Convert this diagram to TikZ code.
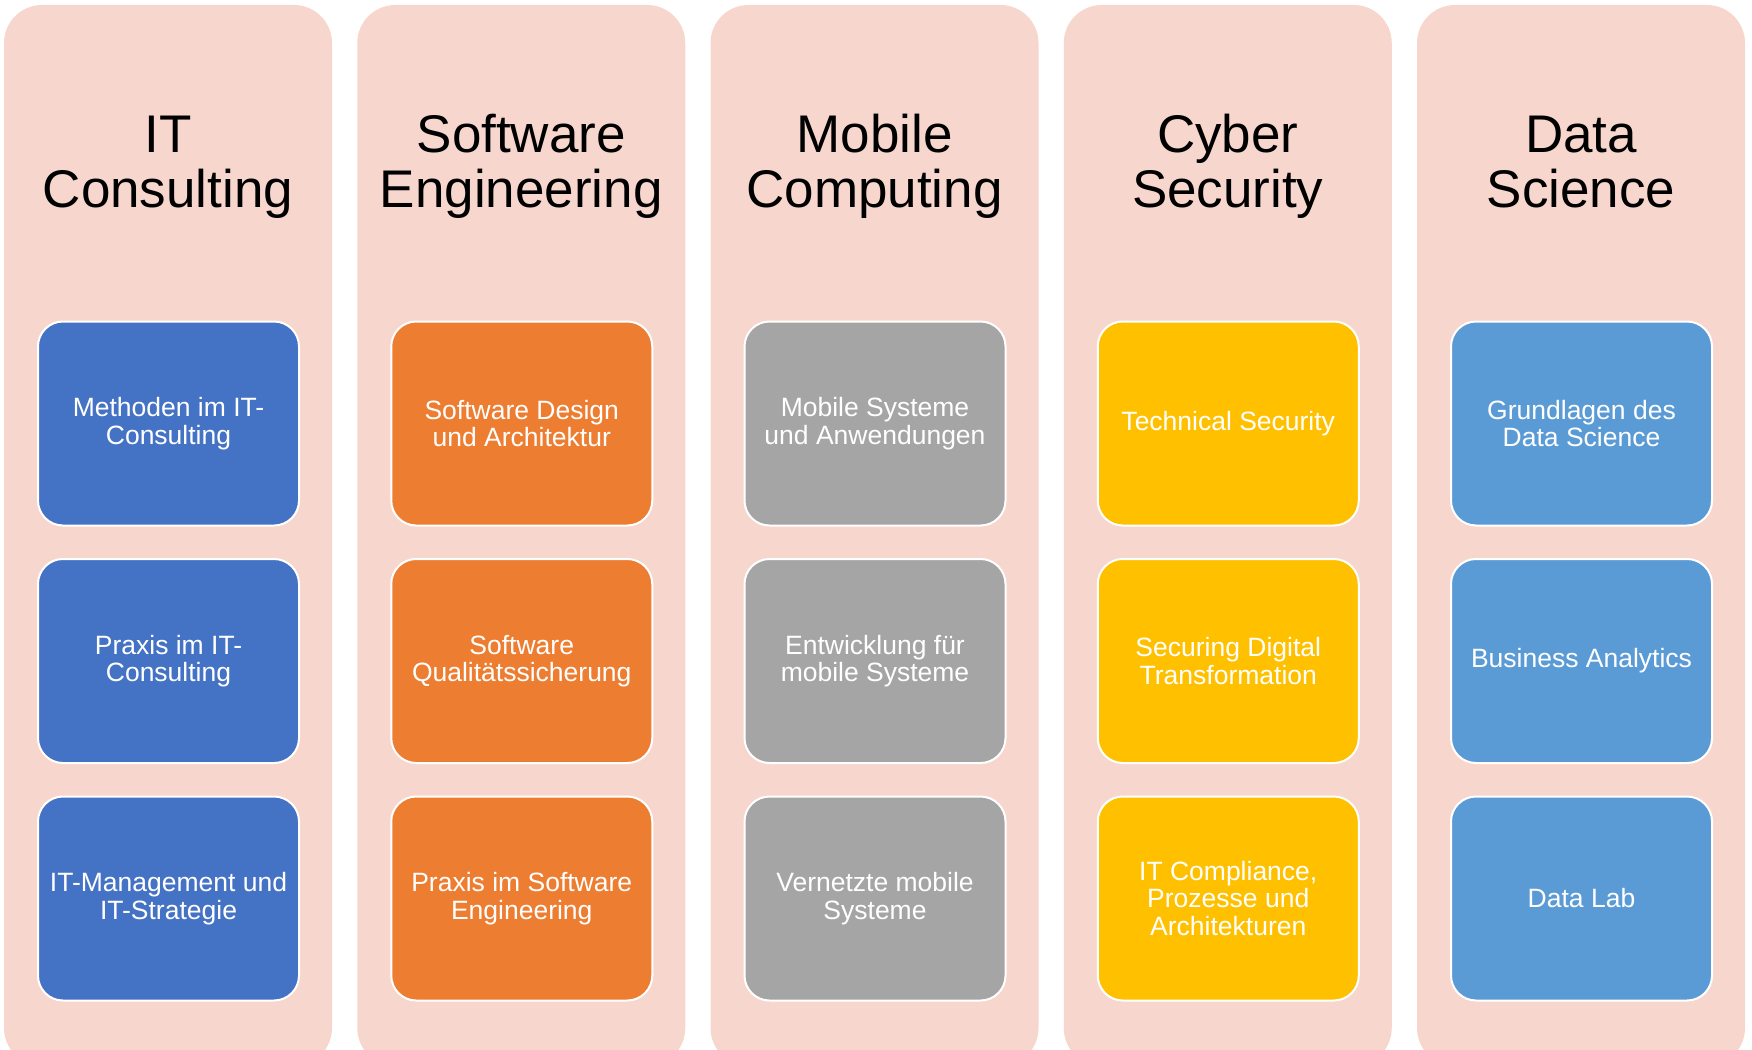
\documentclass[tikz,border=0pt]{standalone}
\usepackage{fontspec}
\setmainfont{Liberation Sans}
\definecolor{colbg}{HTML}{F7D7CD}
\definecolor{cblue}{HTML}{4472C4}
\definecolor{corange}{HTML}{ED7D31}
\definecolor{cgray}{HTML}{A5A5A5}
\definecolor{cgold}{HTML}{FFC000}
\definecolor{clblue}{HTML}{5B9BD5}
\newcommand{\topstrut}{\rule{0pt}{40pt}}
\begin{document}
\begin{tikzpicture}[x=1pt,y=-1pt,
  colbox/.style={fill=colbg, draw=none, rounded corners=38pt},
  title/.style={anchor=north, align=center, inner sep=0pt, text=black, font=\fontsize{53}{55}\selectfont},
  item/.style={draw=white, line width=2pt, rounded corners=25pt, minimum width=261pt, minimum height=204pt, inner sep=0pt, align=center, text=white, font=\fontsize{26.5}{27.5}\selectfont, anchor=north west}
]
\useasboundingbox (0,0) rectangle (1752,1049);
\foreach \i/\c/\t/\a/\b/\cc in {
  0/cblue/{IT\\Consulting}/{Methoden im IT-\\Consulting}/{Praxis im IT-\\Consulting}/{IT-Management und\\IT-Strategie},
  1/corange/{Software\\Engineering}/{Software Design\\und Architektur}/{Software\\Qualitätssicherung}/{Praxis im Software\\Engineering},
  2/cgray/{Mobile\\Computing}/{Mobile Systeme\\und Anwendungen}/{Entwicklung für\\mobile Systeme}/{Vernetzte mobile\\Systeme},
  3/cgold/{Cyber\\Security}/{Technical Security}/{Securing Digital\\Transformation}/{IT Compliance,\\Prozesse und\\Architekturen},
  4/clblue/{Data\\Science}/{Grundlagen des\\Data Science}/{Business Analytics}/{Data Lab}}{
  \pgfmathsetmacro{\xo}{4+353.25*\i}
  \path[colbox] (\xo,5) rectangle ++(328,1061);
  \node[title] (t\i) at (\xo+164,112) {\topstrut\t};
  \node[item, fill=\c] (a\i) at (\xo+33,320.5) {\a};
  \node[item, fill=\c] (b\i) at (\xo+33,558) {\b};
  \node[item, fill=\c] (c\i) at (\xo+33,795.5) {\cc};
}
\end{tikzpicture}
\end{document}
